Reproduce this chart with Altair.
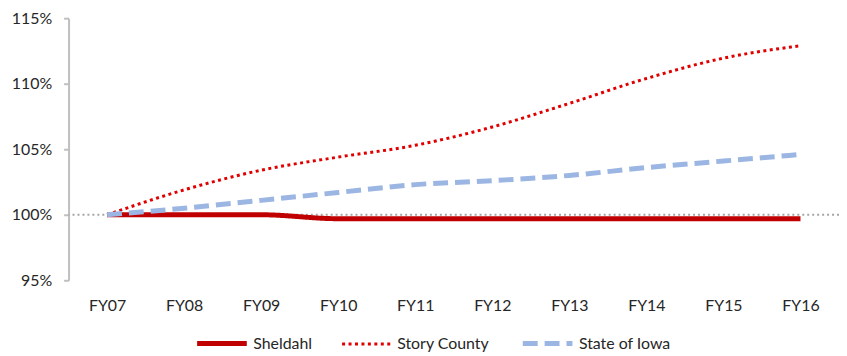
import altair as alt
import pandas as pd

years = ["FY07", "FY08", "FY09", "FY10", "FY11", "FY12", "FY13", "FY14", "FY15", "FY16"]
sheldahl = [100.0, 100.0, 100.0, 99.7, 99.7, 99.7, 99.7, 99.7, 99.7, 99.7]
story = [100.0, 101.9, 103.4, 104.4, 105.3, 106.7, 108.5, 110.4, 111.95, 112.9]
iowa = [100.0, 100.5, 101.1, 101.7, 102.3, 102.6, 103.0, 103.6, 104.1, 104.6]
series = ["Sheldahl", "Story County", "State of Iowa"]

rows = []
for name, vals in zip(series, [sheldahl, story, iowa]):
    for y, v in zip(years, vals):
        rows.append({"year": y, "value": v / 100.0, "series": name})
df = pd.DataFrame(rows)

FONT = "Lato"
FS = 16

x = alt.X("year:N", sort=years, title=None,
          scale=alt.Scale(paddingInner=0, paddingOuter=0.5),
          axis=alt.Axis(labelAngle=0, domain=False, ticks=False, labelPadding=17,
                        labelFontSize=FS, labelColor="#262626", labelFont=FONT))

ref = alt.Chart(pd.DataFrame({"v": [1.0]})).mark_rule(
    color="#A6A6A6", strokeDash=[2, 3], strokeWidth=2
).encode(y=alt.Y("v:Q", scale=alt.Scale(domain=[0.95, 1.15])))

leg = dict(orient="none", direction="horizontal", legendX=127, legendY=300,
           symbolType="stroke", symbolSize=2500, labelFontSize=FS, labelFont=FONT,
           labelColor="#262626", columnPadding=23, labelOffset=4)

lines = alt.Chart(df).mark_line(interpolate="monotone", strokeCap="butt").encode(
    x=x,
    y=alt.Y("value:Q", title=None,
            scale=alt.Scale(domain=[0.95, 1.15], nice=False, zero=False),
            axis=alt.Axis(format=".0%", values=[0.95, 1.0, 1.05, 1.10, 1.15], grid=False,
                          domainColor="#BFBFBF", domainWidth=2, tickColor="#BFBFBF",
                          tickWidth=2, tickSize=5, labelFontSize=FS, labelColor="#262626",
                          labelFont=FONT, labelPadding=12)),
    color=alt.Color("series:N", sort=series, title=None,
                    scale=alt.Scale(domain=series, range=["#C00000", "#E00000", "#9CB6E3"]),
                    legend=alt.Legend(**leg)),
    strokeDash=alt.StrokeDash("series:N", sort=series, title=None,
                              scale=alt.Scale(domain=series, range=[[1, 0], [3, 3.5], [15, 7]]),
                              legend=alt.Legend(**leg)),
    strokeWidth=alt.StrokeWidth("series:N", sort=series, title=None,
                                scale=alt.Scale(type="ordinal", domain=series, range=[5, 3, 5]),
                                legend=alt.Legend(**leg)),
    order=alt.Order("series:N"),
)

chart = alt.layer(ref, lines).properties(
    width=776, height=264,
    autosize=alt.AutoSizeParams(type="none"),
    padding={"left": 61, "top": 9, "right": 0, "bottom": 75},
).configure_view(stroke=None)

chart.save("out.html", embed_options={"renderer": "svg", "actions": False})
